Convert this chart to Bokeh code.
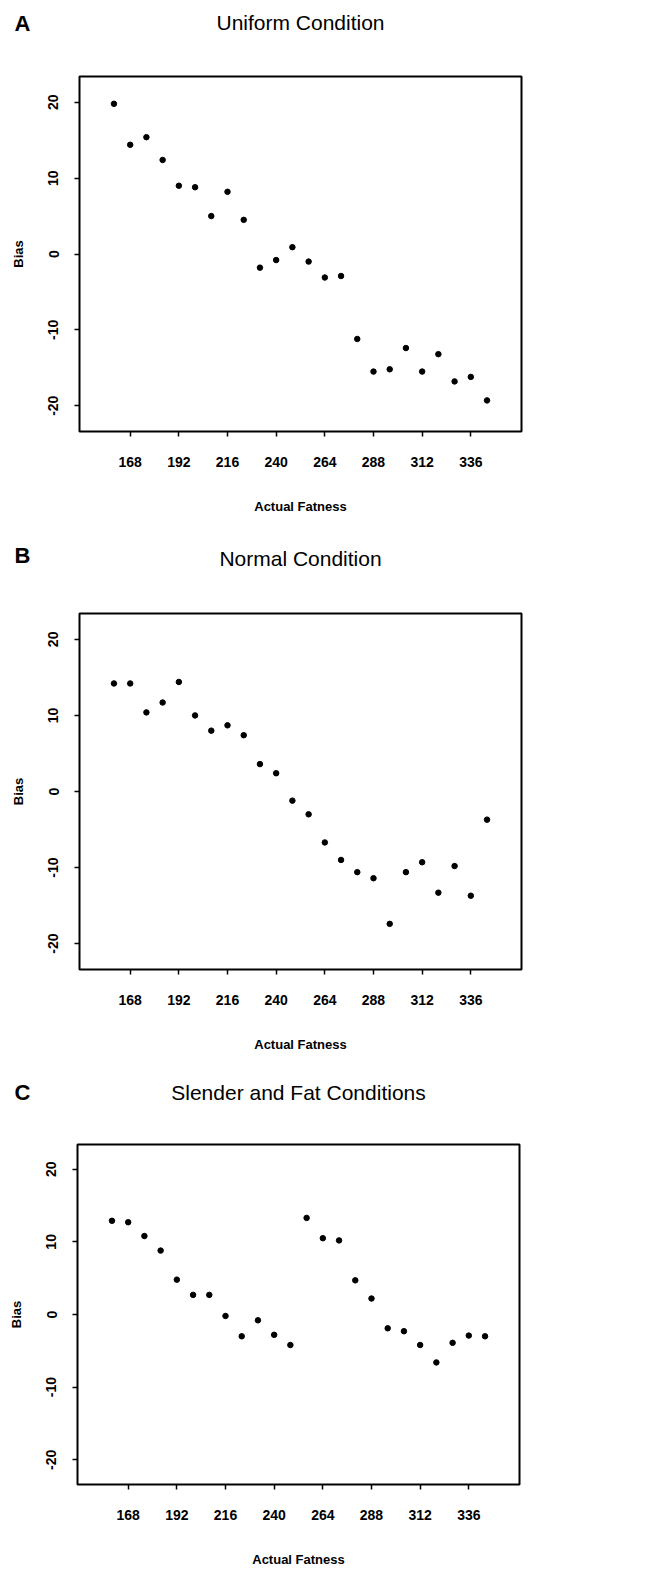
from bokeh.plotting import figure
from bokeh.layouts import column
from bokeh.models import Range1d, FixedTicker
from bokeh.core.properties import value
from bokeh.embed import file_html
from bokeh.resources import INLINE

# ---- data ----
actual_fatness = [160, 168, 176, 184, 192, 200, 208, 216, 224, 232, 240, 248,
                  256, 264, 272, 280, 288, 296, 304, 312, 320, 328, 336, 344]
bias_uniform = [19.8, 14.4, 15.4, 12.4, 9.0, 8.8, 5.0, 8.2, 4.5, -1.8, -0.8, 0.9,
                -1.0, -3.1, -2.9, -11.2, -15.5, -15.2, -12.4, -15.5, -13.2, -16.8, -16.2, -19.3]
bias_normal = [14.2, 14.2, 10.4, 11.7, 14.4, 10.0, 8.0, 8.7, 7.4, 3.6, 2.4, -1.2,
               -3.0, -6.7, -9.0, -10.6, -11.4, -17.4, -10.6, -9.3, -13.3, -9.8, -13.7, -3.7]
bias_slender_fat = [12.9, 12.7, 10.8, 8.8, 4.8, 2.7, 2.7, -0.2, -3.0, -0.8, -2.8, -4.2,
                    13.3, 10.5, 10.2, 4.7, 2.2, -1.9, -2.3, -4.2, -6.6, -3.9, -2.9, -3.0]
x_ticks = [168, 192, 216, 240, 264, 288, 312, 336]
y_ticks = [-20, -10, 0, 10, 20]
panel_letters = ["A", "B", "C"]
panel_titles = ["Uniform Condition", "Normal Condition", "Slender and Fat Conditions"]

FONT = "Liberation Sans"
TOTAL_W = 630


def make_header(letter, title, h, letter_y, title_y, title_x):
    p = figure(width=TOTAL_W, height=h, x_range=Range1d(0, TOTAL_W), y_range=Range1d(h, 0),
               min_border=0, output_backend="svg", toolbar_location=None,
               x_axis_location=None, y_axis_location=None, frame_align=False,
               background_fill_color="white", border_fill_color="white")
    p.outline_line_color = None
    p.grid.visible = False
    p.text(x=[14], y=[letter_y], text=[letter], text_font=value(FONT),
           text_font_style="bold", text_font_size="22px", text_color="black",
           text_align="left", text_baseline="middle")
    p.text(x=[title_x], y=[title_y], text=[title], text_font=value(FONT),
           text_font_size="21px", text_color="black",
           text_align="center", text_baseline="middle")
    return p


def make_panel(yvals, top, fh, bottom, left):
    p = figure(frame_width=442, frame_height=fh,
               min_border_top=top, min_border_bottom=bottom,
               min_border_left=left, min_border_right=TOTAL_W - 442 - left,
               x_range=Range1d(143, 361), y_range=Range1d(-23.4, 23.4),
               output_backend="svg", toolbar_location=None, frame_align=False,
               background_fill_color="white", border_fill_color="white")
    p.grid.visible = False
    p.outline_line_color = "black"
    p.outline_line_width = 2
    p.outline_line_alpha = 1.0

    for ax in (p.xaxis[0], p.yaxis[0]):
        ax.axis_line_color = None
        ax.major_tick_line_color = "black"
        ax.major_tick_line_width = 1.5
        ax.major_tick_out = 5
        ax.major_tick_in = 0
        ax.minor_tick_line_color = None
        ax.major_label_text_font = FONT
        ax.major_label_text_font_style = "bold"
        ax.major_label_text_font_size = "14px"
        ax.major_label_text_color = "black"
        ax.axis_label_text_font = FONT
        ax.axis_label_text_font_style = "bold"
        ax.axis_label_text_font_size = "13px"
        ax.axis_label_text_color = "black"

    p.xaxis.ticker = FixedTicker(ticks=x_ticks)
    p.yaxis.ticker = FixedTicker(ticks=y_ticks)
    p.yaxis.major_label_overrides = {t: str(t) for t in y_ticks}
    p.xaxis.axis_label = "Actual Fatness"
    p.yaxis.axis_label = "Bias"
    p.xaxis.major_label_standoff = 20
    p.xaxis.axis_label_standoff = 29
    p.yaxis.major_label_standoff = 16
    p.yaxis.major_label_orientation = "parallel"
    p.yaxis.axis_label_standoff = 20

    p.scatter(actual_fatness, yvals, size=5.5, color="black", marker="circle")
    return p


hA = make_header(panel_letters[0], panel_titles[0], 50, 23, 22, 300)
pA = make_panel(bias_uniform, 26, 355, 97, 79)
hB = make_header(panel_letters[1], panel_titles[1], 62, 27, 30, 300)
pB = make_panel(bias_normal, 23, 356, 91, 79)
hC = make_header(panel_letters[2], panel_titles[2], 60, 32, 32, 298)
pC = make_panel(bias_slender_fat, 24, 340, 106, 77)

layout = column(hA, pA, hB, pB, hC, pC, spacing=0)
open("out.html", "w").write(file_html(layout, INLINE))
